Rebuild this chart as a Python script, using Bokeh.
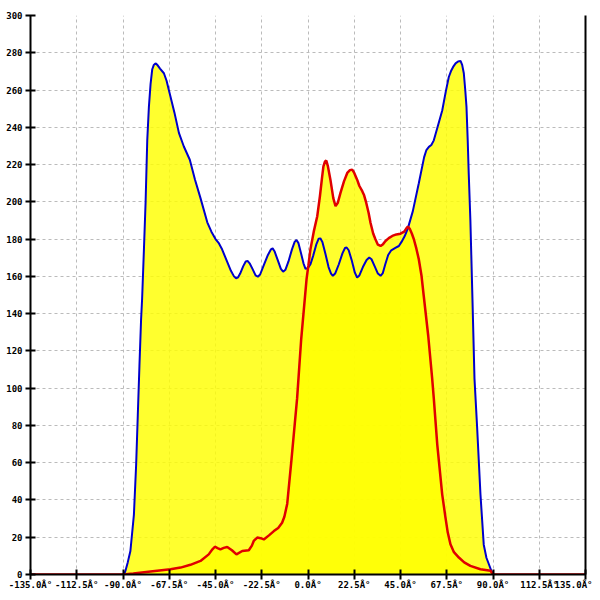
from bokeh.plotting import figure
from bokeh.models import FixedTicker, LinearAxis, Range1d
from bokeh.embed import file_html
from bokeh.resources import INLINE

# ---- data ----
x_ticks = [-135.0, -112.5, -90.0, -67.5, -45.0, -22.5, 0.0, 22.5, 45.0, 67.5, 90.0, 112.5, 135.0]
x_tick_labels = ["-135.0Â°", "-112.5Â°", "-90.0Â°", "-67.5Â°", "-45.0Â°", "-22.5Â°", "0.0Â°",
                 "22.5Â°", "45.0Â°", "67.5Â°", "90.0Â°", "112.5Â°", "135.0Â°"]
y_ticks = list(range(0, 301, 20))

blue_x = [-90, -89.3, -88.8, -87.7, -86.4, -84.7, -83.6, -82.8, -82, -81.2, -80.7, -79.8, -79,
          -78.2, -77.4, -76.6, -75.8, -75, -74.2, -73.3, -72, -70.1, -68.8, -67.7, -65, -62.8,
          -60.4, -57.5, -55, -52.3, -49, -47, -45, -43.5, -42, -40.5, -39, -37.5, -36, -35, -34,
          -33, -31.5, -30.3, -29.4, -28.4, -27, -25.5, -24.4, -23.3, -21.5, -19.5, -18, -17.2,
          -16.3, -14.8, -13.2, -12.1, -11, -9.5, -7.8, -6.5, -5.6, -4.7, -3.3, -2.2, -1.2, 0,
          1.2, 2.5, 4, 5.2, 6, 7, 8.5, 10, 11.2, 12.1, 13.2, 15, 16.8, 18, 18.8, 19.8, 21.3,
          22.8, 23.9, 25, 26.7, 28.5, 29.8, 30.9, 32.4, 34, 35.3, 36.4, 37.6, 39, 40.5, 42.5,
          44.2, 45.5, 47, 48.5, 51, 53.9, 56.5, 57.6, 58.8, 60, 61.2, 63, 65.3, 67, 68.5, 69.7,
          70.6, 71.8, 73, 74.2, 75, 75.8, 76.5, 77.1, 77.7, 78.2, 79, 80, 81, 82.3, 83.9, 85.5,
          86.8, 88, 89.2, 90]
blue_y = [0, 0.5, 2, 6.5, 12.6, 32, 59, 85.6, 112, 137, 148, 175, 200,
          233, 251, 263, 271, 273.5, 274.3, 273.5, 271.5, 269, 265, 260, 248, 237,
          229.7, 222.6, 212, 202, 189, 184, 180, 178, 175, 171, 167, 163, 160, 159, 159.5,
          161.5, 165.5, 168, 168.3, 167, 164, 160.5, 159.8, 161, 166, 171.5, 174.5, 175,
          173.5, 169, 164, 162.5, 163.5, 168, 174.5, 178.5, 179.5, 178, 172, 167, 164, 164.5,
          166.5, 171, 177, 180.2, 180.4, 178.5, 172, 165, 161.5, 160.3, 161.5, 166.5, 172.5, 175.2, 175.5, 174, 168.5,
          162, 159.4, 160.5, 165, 168.8, 170.1, 169.2, 165.5, 161.5, 160.3, 161.8, 166.5, 171.5, 174, 175.3,
          176.3, 178.5, 181.5, 185.5, 195, 210, 224, 227.8, 229.5, 230.5, 233, 240, 249, 259, 267, 270.5,
          272.4, 274.3, 275.3, 275.6, 273.5, 269, 260, 251, 233, 215, 190, 148, 105, 78.5, 43, 16,
          9, 5.5, 2, 0]

red_x = [-140, -90, -85, -76.6, -66.9, -62, -57.2, -52.3, -48.3, -46.5, -45.3, -44, -42.6, -41,
         -39.3, -37, -34.8, -32, -28.8, -27.3, -26.4, -24.7, -23, -21.5, -19, -16.6, -14.5, -12.6,
         -11.5, -10.9, -10.1, -8, -5.3, -3.3, -0.7, 0.2, 1.2, 2.8, 4.5, 5.8, 6.9, 7.5, 8.2, 8.9,
         9.7, 10.9, 12.3, 13.4, 14.5, 15.8, 17.5, 19.1, 20.4, 21.5, 22.5, 23.9, 25, 26.4, 27.3,
         28.2, 29.5, 30.4, 31.7, 32.8, 34, 35.3, 36.5, 37.7, 39.3, 41, 43, 45, 46.8, 48, 48.6,
         49.5, 50.5, 51.5, 52.7, 53.9, 55.2, 56.3, 58.5, 60.4, 61.2, 62.9, 65.3, 66.9, 68, 69.3,
         71, 73.4, 76, 79, 83.9, 88.8, 90, 140]
red_y = [0, 0, 0.5, 1.6, 2.8, 3.7, 5.2, 7.3, 10.8, 13.5, 14.9, 14.2, 13.5, 14.3,
         14.8, 13, 10.8, 12.6, 13, 15.5, 18, 19.8, 19.5, 18.8, 21, 23.3, 25, 27.8,
         31, 34, 38, 62, 94.5, 126.5, 158.5, 166, 174.6, 184, 192.3, 203, 213.7, 219, 221.5, 222.2,
         219, 211.9, 202, 197.7, 199.5, 204.8, 211, 215.5, 217, 217.3, 215.5, 211.9, 208.5, 205.7, 203.5,
         200, 194, 188.8, 183, 179.9, 177, 176.3, 177.3, 179, 180.5, 181.7, 182.5, 182.9, 184, 186, 186.7,
         185.5, 183, 179.9, 175, 169.2, 160.5, 149.6, 128, 105.2, 94.5, 69.6, 42.9, 30.4, 22.5, 16.2,
         12, 9.1, 6.5, 4.6, 2.8, 2, 0, 0]

# ---- figure ----
p = figure(width=592, height=592, output_backend="svg", toolbar_location=None,
           x_range=Range1d(-135, 135), y_range=Range1d(0, 300),
           min_border_left=30, min_border_right=7, min_border_top=15, min_border_bottom=15)
p.outline_line_color = None
p.background_fill_color = "white"
p.border_fill_color = "white"

p.varea(x=blue_x, y1=0, y2=blue_y, fill_color="#FFFF00", fill_alpha=0.82)
p.varea(x=red_x, y1=0, y2=red_y, fill_color="#FFFF00", fill_alpha=0.82)
p.line(blue_x, blue_y, line_color="#0000CC", line_width=2)
p.line(red_x, red_y, line_color="#E00000", line_width=2.5)

font = "DejaVu Sans Mono"
for ax in (p.xaxis[0], p.yaxis[0]):
    ax.axis_line_color = "black"
    ax.axis_line_width = 2
    ax.major_tick_line_color = "black"
    ax.major_tick_line_width = 2
    ax.major_tick_in = 5
    ax.major_tick_out = 5
    ax.minor_tick_line_color = None
    ax.major_label_text_font = font
    ax.major_label_text_font_style = "bold"
    ax.major_label_text_font_size = "9px"
    ax.major_label_text_color = "black"

p.xaxis[0].ticker = FixedTicker(ticks=x_ticks)
p.xaxis[0].major_label_overrides = {t: l for t, l in zip(x_ticks, x_tick_labels)}
p.xaxis[0].major_label_standoff = 0
p.yaxis[0].ticker = FixedTicker(ticks=y_ticks)
p.yaxis[0].major_label_standoff = 3

right = LinearAxis(ticker=FixedTicker(ticks=[]), major_tick_in=0, major_tick_out=0,
                   minor_tick_line_color=None, major_label_text_font_size="0px",
                   axis_line_color="black", axis_line_width=2)
p.add_layout(right, "right")

p.xgrid.ticker = FixedTicker(ticks=x_ticks)
p.ygrid.ticker = FixedTicker(ticks=y_ticks)
for g in (p.xgrid[0], p.ygrid[0]):
    g.grid_line_color = "#BBBBBB"
    g.grid_line_dash = "3 3"
    g.grid_line_width = 1

open("out.html", "w").write(file_html(p, INLINE))
